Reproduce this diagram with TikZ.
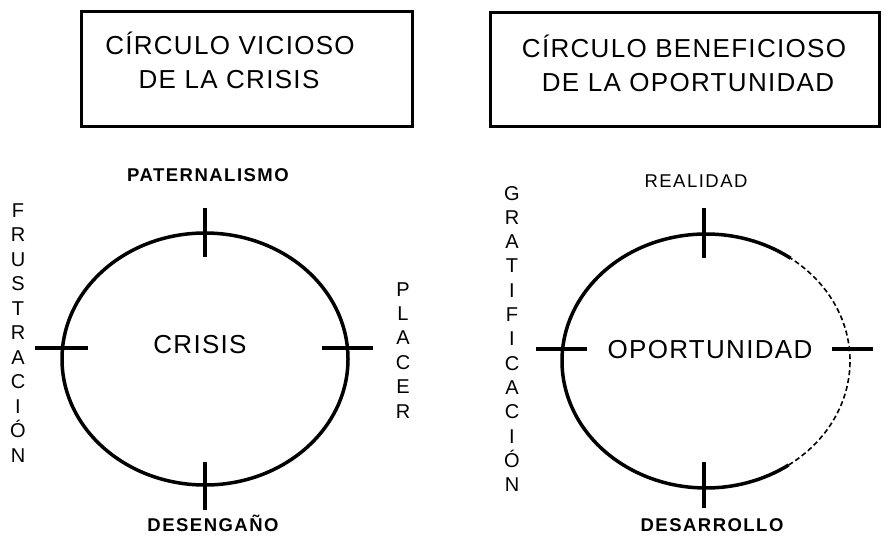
\documentclass[tikz,border=0pt]{standalone}
\usepackage{fontspec}
\setmainfont{Liberation Sans}
\newfontfamily\tfont[LetterSpace=5]{Liberation Sans}
\newfontfamily\lfont[LetterSpace=8]{Liberation Sans}
\begin{document}
\begin{tikzpicture}[x=1pt,y=-1pt,
  title/.style={font=\tfont\fontsize{26}{30}\selectfont, anchor=base, inner sep=0pt},
  lab/.style={font=\lfont\bfseries\fontsize{18.5}{22}\selectfont, anchor=base, inner sep=0pt},
  labr/.style={font=\lfont\fontsize{18.5}{22}\selectfont, anchor=base, inner sep=0pt},
  vlet/.style={font=\fontsize{20}{24}\selectfont, anchor=base, inner sep=0pt},
  ring/.style={line width=3.5pt},
  thinring/.style={line width=1.6pt, dash pattern=on 5pt off 3pt},
  tickline/.style={line width=3.5pt},
  frame/.style={line width=3pt}]
\useasboundingbox (0,0) rectangle (896,535);

% title boxes
\draw[frame] (81,12) rectangle (412,126);
\draw[frame] (490,13) rectangle (879,126);
\node[title] (t1a) at (230,55) {CÍRCULO VICIOSO};
\node[title] (t1b) at (229,88) {DE LA CRISIS};
\node[title] (t2a) at (684,57) {CÍRCULO BENEFICIOSO};
\node[title] (t2b) at (688,92) {DE LA OPORTUNIDAD};

% left circle
\coordinate (c1) at (205,359);
\draw[ring] (c1) ellipse [x radius=143, y radius=126];
\draw[tickline] (205,208) -- (205,257);
\draw[tickline] (205,462) -- (205,510);
\draw[tickline] (35,348) -- (88,348);
\draw[tickline] (322,348) -- (373,348);
\node[title] (crisis) at (200,353) {CRISIS};
\node[lab] (pat) at (208,181) {PATERNALISMO};
\node[lab] (des) at (213,531) {DESENGAÑO};
\foreach \ch [count=\i from 0] in {F,R,U,S,T,R,A,C,I,Ó,N}
  \node[vlet] (fr\i) at (18,{217+24.5*\i}) {\ch};
\foreach \ch [count=\i from 0] in {P,L,A,C,E,R}
  \node[vlet] (pl\i) at (403,{296+24.4*\i}) {\ch};

% right circle
\coordinate (c2) at (706,361);
\draw[ring] (c2) ++(-54:144 and 127) arc[start angle=-54, end angle=-305, x radius=144, y radius=127];
\draw[thinring] (c2) ++(55:144 and 127) arc[start angle=55, end angle=-54, x radius=144, y radius=127];
\draw[tickline] (704,208) -- (704,258);
\draw[tickline] (704,462) -- (704,508);
\draw[tickline] (536,349) -- (587,349);
\draw[tickline] (832,349) -- (873,349);
\node[title] (opo) at (710,358) {OPORTUNIDAD};
\node[labr] (rea) at (696,187) {REALIDAD};
\node[lab] (desa) at (712,531) {DESARROLLO};
\foreach \ch [count=\i from 0] in {G,R,A,T,I,F,I,C,A,C,I,Ó,N}
  \node[vlet] (gr\i) at (512,{200+24.3*\i}) {\ch};
\end{tikzpicture}
\end{document}
